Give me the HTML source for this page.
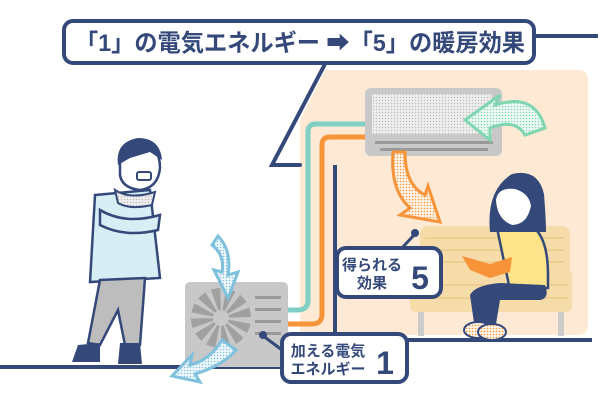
<!DOCTYPE html>
<html><head><meta charset="utf-8"><style>
html,body{margin:0;padding:0;background:#fff;width:600px;height:400px;overflow:hidden}
svg{display:block}
text{font-family:"Liberation Sans","Noto Sans CJK JP",sans-serif;font-weight:bold;fill:#34497a}
</style></head><body>
<svg width="600" height="400" viewBox="0 0 600 400" xmlns="http://www.w3.org/2000/svg">
<defs>
<pattern id="dg" width="3" height="3" patternUnits="userSpaceOnUse"><rect width="3" height="3" fill="#eeeeee"/><circle cx="1.5" cy="1.5" r="0.7" fill="#bbb"/></pattern>
<pattern id="do" width="3" height="3" patternUnits="userSpaceOnUse"><rect width="3" height="3" fill="#fff4e8"/><circle cx="1.5" cy="1.5" r="0.8" fill="#f7943a"/></pattern>
<pattern id="dt" width="3" height="3" patternUnits="userSpaceOnUse"><rect width="3" height="3" fill="#eefaf5"/><circle cx="1.5" cy="1.5" r="0.8" fill="#7fd6b0"/></pattern>
<pattern id="db" width="3" height="3" patternUnits="userSpaceOnUse"><rect width="3" height="3" fill="#f0f8fc"/><circle cx="1.5" cy="1.5" r="0.8" fill="#7fc0dc"/></pattern>
</defs>
<!-- peach room -->
<path d="M325 70 L578 70 Q588 70 588 80 L588 325 Q588 335 578 335 L300 335 L300 120 Z" fill="#fde9d4"/>
<!-- house outline -->
<path d="M325 64 L272 165 L300 165" fill="none" stroke="#34497a" stroke-width="4" stroke-linecap="round"/>
<line x1="335" y1="165" x2="335" y2="340" stroke="#34497a" stroke-width="4"/>
<line x1="535" y1="36" x2="598" y2="36" stroke="#34497a" stroke-width="4"/>
<!-- floor & ground -->
<line x1="408" y1="340" x2="592" y2="340" stroke="#34497a" stroke-width="4"/>
<line x1="0" y1="367" x2="285" y2="367" stroke="#34497a" stroke-width="4"/>
<!-- pipes -->
<path d="M365 124 L316 124 Q308 124 308 132 L308 300 Q308 310 298 310 L288 310" fill="none" stroke="#7fcfc6" stroke-width="5"/>
<path d="M365 137 L330 137 Q322 137 322 145 L322 314 Q322 324 312 324 L288 324" fill="none" stroke="#f7943a" stroke-width="5"/>
<!-- AC -->
<rect x="365" y="88" width="137" height="68" rx="6" fill="#c8c8c8"/>
<rect x="372" y="94" width="120" height="40" fill="url(#dg)"/>
<rect x="375" y="141" width="118" height="3" fill="#999"/>
<rect x="380" y="148" width="108" height="3" fill="#999"/>
<!-- green arrow -->
<path d="M545 128 Q535 92 495 105 L500 95 L465 120 L490 140 L490 128 Q515 118 525 135 Z" fill="url(#dt)" stroke="#7fd6b0" stroke-width="3"/>
<!-- orange arrow -->
<path d="M393 152 L405 152 Q405 185 425 195 L428 186 L440 222 L400 215 L410 208 Q390 190 393 152 Z" fill="url(#do)" stroke="#f7943a" stroke-width="3"/>
<!-- sofa -->
<rect x="420" y="226" width="150" height="75" rx="8" fill="#f6dca8"/>
<rect x="410" y="270" width="162" height="42" rx="6" fill="#f6dca8"/>
<g stroke="#ecc98a" stroke-width="1.5"><line x1="425" y1="238" x2="565" y2="238"/><line x1="425" y1="250" x2="565" y2="250"/><line x1="425" y1="262" x2="565" y2="262"/><line x1="415" y1="285" x2="568" y2="285"/><line x1="415" y1="298" x2="568" y2="298"/></g>
<rect x="418" y="312" width="6" height="24" fill="#ccc"/><rect x="558" y="312" width="6" height="24" fill="#ccc"/>
<!-- girl -->
<path d="M497 228 Q505 222 530 225 Q548 235 548 275 L548 288 L510 290 Z" fill="#fde38a" stroke="#34497a" stroke-width="2.5"/>
<path d="M470 295 Q475 285 500 283 L545 285 Q550 298 540 300 L500 300 L495 330 L475 330 Z" fill="#34497a"/>
<ellipse cx="478" cy="330" rx="14" ry="8" fill="url(#do)" stroke="#34497a" stroke-width="2"/>
<ellipse cx="492" cy="332" rx="14" ry="8" fill="url(#do)" stroke="#34497a" stroke-width="2"/>
<path d="M462 256 L490 264 L512 257 L510 272 L490 278 L470 270 Z" fill="#f7943a"/>
<path d="M490 232 Q486 190 512 174 Q538 168 544 194 Q546 220 546 232 Z" fill="#34497a"/>
<path d="M495 200 Q497 186 515 188 Q530 192 532 206 Q528 226 512 226 Q496 220 495 200 Z" fill="#fff" stroke="#34497a" stroke-width="2"/>
<!-- outdoor unit -->
<rect x="185" y="282" width="103" height="85" rx="5" fill="#c8c8c8"/>
<circle cx="221" cy="318" r="30" fill="#a0a0a0"/>
<circle cx="221" cy="318" r="15" fill="none" stroke="#c8c8c8" stroke-width="30" stroke-dasharray="3 4.8"/>
<circle cx="221" cy="318" r="8" fill="#c8c8c8"/>
<g fill="#999"><rect x="255" y="296" width="26" height="3"/><rect x="255" y="308" width="26" height="3"/><rect x="255" y="320" width="26" height="3"/><rect x="255" y="332" width="26" height="3"/></g>
<!-- blue arrows -->
<path d="M218 236 Q232 250 228 275 L238 272 L228 298 L214 270 L222 272 Q225 255 212 245 Z" fill="url(#db)" stroke="#7fc0dc" stroke-width="3"/>
<path d="M222 340 Q210 360 190 365 L192 355 L172 376 L200 382 L195 374 Q222 366 236 350 Z" fill="url(#db)" stroke="#7fc0dc" stroke-width="3"/>
<!-- man -->
<path d="M95 195 L150 190 L160 278 L90 282 Z" fill="#d6eef4" stroke="#34497a" stroke-width="2.5"/>
<path d="M100 280 L145 278 L140 345 L125 345 L118 310 L100 345 L88 343 Z" fill="#bdbdbd" stroke="#34497a" stroke-width="2.5"/>
<path d="M78 345 L100 343 L100 362 L72 362 Z" fill="#34497a"/><path d="M120 343 L140 343 L142 364 L118 364 Z" fill="#34497a"/>
<path d="M115 190 Q130 200 155 192 L152 205 Q130 210 118 203 Z" fill="url(#dg)" stroke="#34497a" stroke-width="2"/>
<path d="M100 210 Q125 225 160 215 L158 230 Q125 238 100 225 Z" fill="#d6eef4" stroke="#34497a" stroke-width="2.5"/>
<path d="M120 160 Q122 145 140 142 Q160 145 160 168 Q158 188 140 190 Q122 188 120 175 Z" fill="#fff" stroke="#34497a" stroke-width="2.5"/>
<path d="M118 165 Q115 142 138 138 Q160 138 162 160 L150 152 L130 158 Z" fill="#34497a"/>
<rect x="137" y="172" width="14" height="8" rx="2" fill="#fff" stroke="#34497a" stroke-width="2"/>
<!-- title -->
<rect x="64" y="21" width="470" height="42" rx="9" fill="#fff" stroke="#34497a" stroke-width="4"/>
<text x="75" y="51" font-size="24" textLength="450" lengthAdjust="spacingAndGlyphs">「1」の電気エネルギー ➡「5」の暖房効果</text>
<!-- label 5 -->
<line x1="400" y1="250" x2="415" y2="234" stroke="#34497a" stroke-width="3"/><circle cx="415" cy="233" r="4" fill="#34497a"/>
<rect x="337" y="248" width="104" height="49" rx="9" fill="#fff" stroke="#34497a" stroke-width="4"/>
<text x="372" y="270" font-size="15" text-anchor="middle">得られる</text>
<text x="372" y="288" font-size="15" text-anchor="middle">効果</text>
<text x="420" y="289" font-size="32" text-anchor="middle">5</text>
<!-- label 1 -->
<line x1="262" y1="335" x2="282" y2="350" stroke="#34497a" stroke-width="3"/><circle cx="263" cy="335" r="4" fill="#34497a"/>
<rect x="282" y="334" width="125" height="48" rx="9" fill="#fff" stroke="#34497a" stroke-width="4"/>
<text x="328" y="356" font-size="15" text-anchor="middle">加える電気</text>
<text x="328" y="374" font-size="15" text-anchor="middle">エネルギー</text>
<text x="385" y="374" font-size="32" text-anchor="middle">1</text>
</svg>
</body></html>
